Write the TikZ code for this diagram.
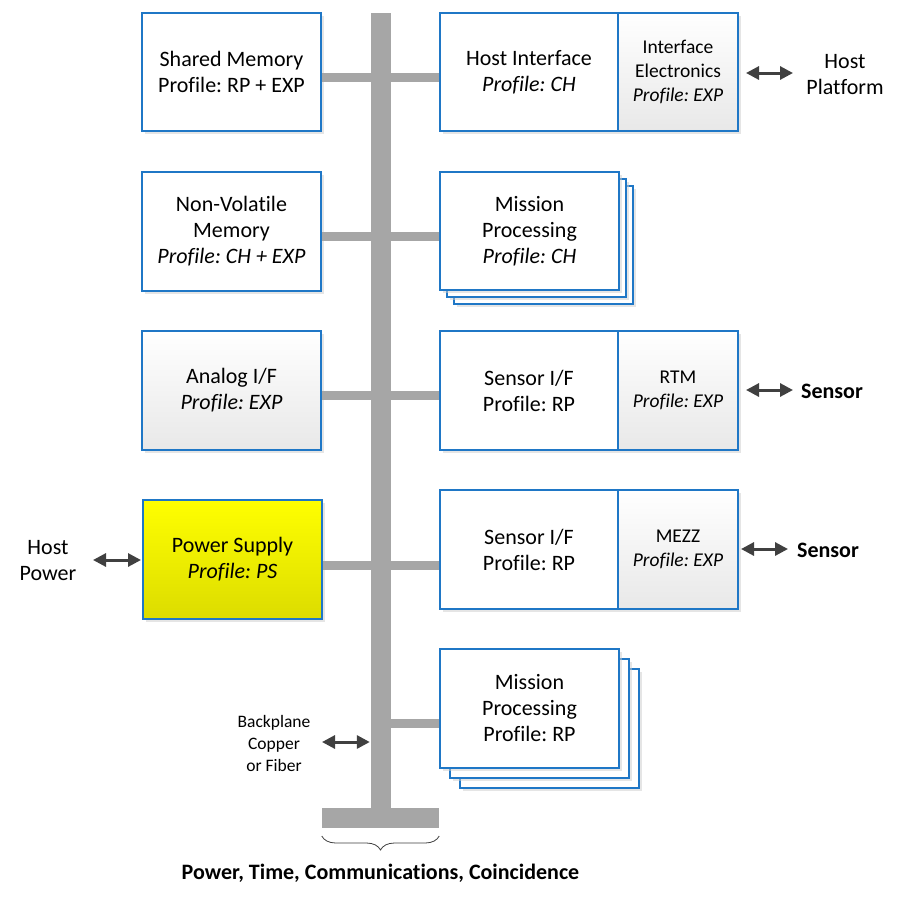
\documentclass[tikz,border=0pt]{standalone}
\usepackage{fontspec}
\setmainfont{Carlito}[Ligatures=NoCommon]
\frenchspacing
\usetikzlibrary{arrows.meta,shadows,decorations.pathreplacing}
\definecolor{bblue}{HTML}{1F77C6}
\definecolor{busgray}{HTML}{A6A6A6}
\definecolor{arrgray}{HTML}{404040}
\definecolor{psyel}{HTML}{FFFF00}
\definecolor{psyelb}{HTML}{DCDC00}
\tikzset{
  box/.style={draw=bblue, line width=2pt, fill=white, inner sep=0pt, align=center,
    minimum width=179pt, minimum height=118pt, font=\fontsize{22}{26}\selectfont,
    drop shadow={shadow xshift=3pt, shadow yshift=-3pt, fill=black!20}},
  gbox/.style={box, top color=white, bottom color=black!9},
  subbox/.style={gbox, minimum width=120pt, font=\fontsize{19.5}{24}\selectfont},
  psbox/.style={box, top color=psyel, bottom color=psyelb},
  busbar/.style={fill=busgray, draw=none, inner sep=0pt},
  stub/.style={draw=busgray, line width=9pt},
  dar/.style={draw=arrgray, line width=3pt,
    {Triangle[length=13pt,width=13pt]}-{Triangle[length=13pt,width=13pt]}},
  lbl/.style={align=center, inner sep=0pt, font=\fontsize{22}{26}\selectfont},
  blbl/.style={lbl, font=\fontsize{22}{26}\selectfont\bfseries},
  slbl/.style={lbl, font=\fontsize{17.5}{22}\selectfont},
}
\begin{document}
\begin{tikzpicture}[x=1pt,y=-1pt]
\useasboundingbox[fill=white] (0,0) rectangle (905,898);
% bus
\node[busbar, minimum width=20pt, minimum height=795pt] (bus) at (381,410.5) {};
\node[busbar, minimum width=117pt, minimum height=20pt] (base) at (380.5,818) {};
% left column
\node[box] (sm) at (231.5,72) {Shared Memory\\Profile: RP + EXP};
\node[box, minimum height=119pt] (nv) at (231.5,231.5) {Non-Volatile\\Memory\\\textit{Profile: CH + EXP}};
\node[gbox, minimum height=119pt] (af) at (231.5,390.5) {Analog I/F\\\textit{Profile: EXP}};
\node[psbox, minimum height=119pt] (ps) at (232.5,559.5) {Power Supply\\\textit{Profile: PS}};
% right column
\node[box, minimum width=178pt] (hi) at (529,72) {Host Interface\\\textit{Profile: CH}};
\node[subbox] (ie) at (678,72) {Interface\\Electronics\\\textit{Profile: EXP}};
\node[box] (mp1c) at (543.5,245) {};
\node[box] (mp1b) at (536.5,238) {};
\node[box] (mp1) at (529.5,231) {Mission\\Processing\\\textit{Profile: CH}};
\node[box, minimum width=178pt, minimum height=119pt] (si1) at (529,390.5) {Sensor I/F\\Profile: RP};
\node[subbox, minimum height=119pt] (rtm) at (678,390.5) {RTM\\\textit{Profile: EXP}};
\node[box, minimum width=178pt, minimum height=119pt] (si2) at (529,549.5) {Sensor I/F\\Profile: RP};
\node[subbox, minimum height=119pt] (mezz) at (678,549.5) {MEZZ\\\textit{Profile: EXP}};
\node[box, minimum height=119pt] (mp2c) at (549.5,728.5) {};
\node[box, minimum height=119pt] (mp2b) at (539.5,718.5) {};
\node[box, minimum height=119pt] (mp2) at (529.5,708.5) {Mission\\Processing\\Profile: RP};
% stubs
\draw[stub] (sm.east |- 0,77) -- (bus.west |- 0,77);
\draw[stub] (bus.east |- 0,77) -- (hi.west |- 0,77);
\draw[stub] (nv.east |- 0,236) -- (bus.west |- 0,236);
\draw[stub] (bus.east |- 0,236) -- (mp1.west |- 0,236);
\draw[stub] (af.east |- 0,395.5) -- (bus.west |- 0,395.5);
\draw[stub] (bus.east |- 0,395.5) -- (si1.west |- 0,395.5);
\draw[stub] (ps.east |- 0,565.5) -- (bus.west |- 0,565.5);
\draw[stub] (bus.east |- 0,565.5) -- (si2.west |- 0,565.5);
\draw[stub] (bus.east |- 0,723.5) -- (mp2.west |- 0,723.5);
% outside labels
\node[lbl] (hp) at (845,75) {Host\\Platform};
\node[blbl] (sen1) at (832,391) {Sensor};
\node[blbl] (sen2) at (828,550) {Sensor};
\node[lbl] (hpow) at (48,561) {Host\\Power};
\node[slbl] (bp) at (274,743) {Backplane\\Copper\\or Fiber};
\node[blbl] (ptcc) at (380.5,873) {Power, Time, Communications, Coincidence};
% arrows
\coordinate (hpw) at (793,73);
\draw[dar, shorten <=7pt] (ie.east |- hpw) -- (hpw);
\coordinate (s1w) at (793,390);
\draw[dar, shorten <=7pt] (rtm.east |- s1w) -- (s1w);
\coordinate (s2w) at (788,549);
\draw[dar, shorten <=2pt] (mezz.east |- s2w) -- (s2w);
\coordinate (hpe) at (93,560);
\draw[dar, shorten >=1pt] (hpe) -- (ps.west |- hpe);
\coordinate (bpw) at (322,742);
\draw[dar, shorten >=1pt] (bpw) -- (bus.west |- bpw);
% brace
\draw[decorate, decoration={brace, mirror, amplitude=14pt}, draw=arrgray, line width=0.8pt]
  (base.west |- 0,836) -- (base.east |- 0,836);
\end{tikzpicture}
\end{document}
